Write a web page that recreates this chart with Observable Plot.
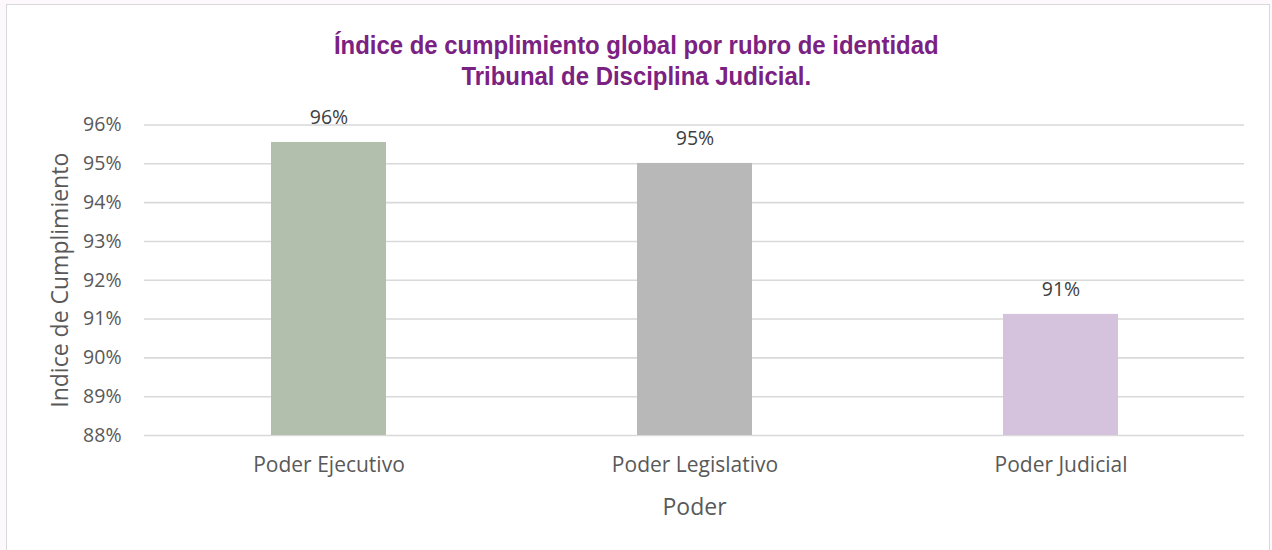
<!DOCTYPE html>
<html>
<head>
<meta charset="utf-8">
<script src="https://cdn.jsdelivr.net/npm/d3@7"></script>
<script src="https://cdn.jsdelivr.net/npm/@observablehq/plot@0.6"></script>
<style>
  html, body { margin: 0; padding: 0; background: #fcf8fb; }
  #frame {
    position: absolute; left: 6px; top: 4px; width: 1264px; height: 600px;
    background: #fff; border: 1px solid #d9d9d9; box-sizing: border-box;
  }
  #title {
    position: absolute; left: 0; top: 30px; width: 1272px; height: 65px;
    text-align: center; color: #7b2182;
    font-family: "Liberation Sans Narrow", "Arial Narrow", "Liberation Sans", sans-serif;
    font-weight: bold; font-size: 26px; line-height: 31px;
    transform: scaleX(0.92); transform-origin: 639px 0;
  }
  #chart { position: absolute; left: 0; top: 95px; }
</style>
</head>
<body>
<div id="frame"></div>
<div id="title">Índice de cumplimiento global por rubro de identidad<br>Tribunal de Disciplina Judicial.</div>
<div id="chart"></div>
<script>
const categories = ["Poder Ejecutivo", "Poder Legislativo", "Poder Judicial"];
const values = [0.9555, 0.9501, 0.9112];
const labels = ["96%", "95%", "91%"];
const colors = ["#b3bfad", "#b8b8b8", "#d5c2dc"];
const yTicks = [0.88, 0.89, 0.90, 0.91, 0.92, 0.93, 0.94, 0.95, 0.96];
const xTitle = "Poder";
const yTitle = "Indice de Cumplimiento";

const data = categories.map((c, i) => ({cat: c, value: values[i], label: labels[i], color: colors[i]}));

const font = "'Open Sans', 'Noto Sans', sans-serif";

const chart = Plot.plot({
  width: 1272,
  height: 455,
  marginTop: 29.5,
  marginBottom: 115,
  marginLeft: 144,
  marginRight: 28,
  style: {fontFamily: font, background: "transparent", overflow: "visible"},
  x: {domain: categories, paddingInner: 0.686, paddingOuter: 0.343, label: null},
  y: {domain: [0.88, 0.96], label: null},
  marks: [
    Plot.ruleY(yTicks, {stroke: "#d9d9d9", strokeWidth: 1.6}),
    Plot.barY(data, {x: "cat", y1: 0.88, y2: "value", fill: "color"}),
    Plot.text(data, {x: "cat", y: "value", text: "label", dy: -25, fill: "#404040", fontSize: 19.5}),
    Plot.axisY({ticks: yTicks, tickFormat: d3.format(".0%"), tickSize: 0, tickPadding: 23, fontSize: 19.5, color: "#595959", label: null}),
    Plot.axisX({tickSize: 0, tickPadding: 22, fontSize: 21, color: "#595959", label: null}),
    Plot.text([xTitle], {frameAnchor: "bottom", lineAnchor: "middle", dy: 72, fontSize: 23, fill: "#595959"}),
    Plot.text([yTitle], {frameAnchor: "left", textAnchor: "middle", lineAnchor: "middle", dx: -84, rotate: -90, fontSize: 23, fill: "#595959"})
  ]
});
document.getElementById("chart").appendChild(chart);
</script>
</body>
</html>
